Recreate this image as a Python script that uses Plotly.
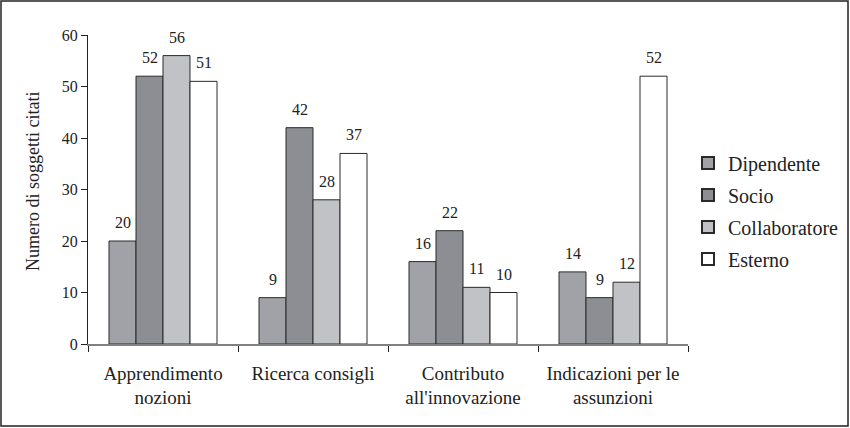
import plotly.graph_objects as go

categories = ["Apprendimento<br>nozioni", "Ricerca consigli", "Contributo<br>all'innovazione", "Indicazioni per le<br>assunzioni"]
series_names = ["Dipendente", "Socio", "Collaboratore", "Esterno"]
dipendente = [20, 9, 16, 14]
socio = [52, 42, 22, 9]
collaboratore = [56, 28, 11, 12]
esterno = [51, 37, 10, 52]
colors = ["#a0a2a7", "#8c8e93", "#c1c2c6", "#ffffff"]
yticks = [0, 10, 20, 30, 40, 50, 60]
y_title = "Numero di soggetti citati"

font_family = "Liberation Serif"
W, H = 850, 428
l, r, t, b = 88, 162, 35, 84
pw, ph = W - l - r, H - t - b
def px(x): return (x - l) / pw
def py(y): return (H - b - y) / ph

bargap = 0.28
n = len(series_names)
bar_px = pw / len(categories) * (1 - bargap) / n

fig = go.Figure()
annotations = []
all_series = [dipendente, socio, collaboratore, esterno]
for i, (name, vals, col) in enumerate(zip(series_names, all_series, colors)):
    fig.add_trace(go.Bar(
        name=name, x=categories, y=vals, legendgroup=name,
        marker=dict(color=col, line=dict(color="#2a2a2a", width=1)),
    ))
    for c, v in zip(categories, vals):
        annotations.append(dict(x=c, y=v, text=str(v), showarrow=False, yanchor="bottom",
                                xshift=(i - (n - 1) / 2) * bar_px, yshift=8,
                                font=dict(size=16, color="#222")))

annotations.append(dict(xref="paper", yref="paper", x=px(33), y=py(182), text=y_title,
                        textangle=-90, showarrow=False, xanchor="center", yanchor="middle",
                        font=dict(size=18, color="#222")))

fig.update_layout(
    width=W, height=H, barmode="group", bargap=bargap, bargroupgap=0,
    margin=dict(l=l, r=r, t=t, b=b, autoexpand=False),
    paper_bgcolor="white", plot_bgcolor="white",
    font=dict(family=font_family, size=16, color="#222"),
    showlegend=True,
    legend=dict(x=px(688), y=py(211), xanchor="left", yanchor="middle",
                font=dict(size=20), tracegroupgap=3, itemsizing="constant",
                bgcolor="rgba(0,0,0,0)"),
    xaxis=dict(showline=True, linecolor="#808080", linewidth=1.5, ticks="outside",
               tickson="boundaries", ticklen=6, tickcolor="#222",
               ticklabelstandoff=11,
               tickfont=dict(size=19), showgrid=False),
    yaxis=dict(range=[0, 60], tickvals=yticks, showline=True, linecolor="#222",
               linewidth=1, ticks="outside", ticklen=6, tickcolor="#222",
               showgrid=False, zeroline=False, tickfont=dict(size=16)),
    annotations=annotations,
    shapes=[dict(type="rect", xref="paper", yref="paper",
                 x0=px(1), x1=px(848), y0=py(426), y1=py(1),
                 line=dict(color="#222", width=1.5), fillcolor="rgba(0,0,0,0)")],
)
fig.write_html("out.html", config={"displayModeBar": False},
               post_script="document.body.style.margin='0';document.body.style.overflow='hidden';")
